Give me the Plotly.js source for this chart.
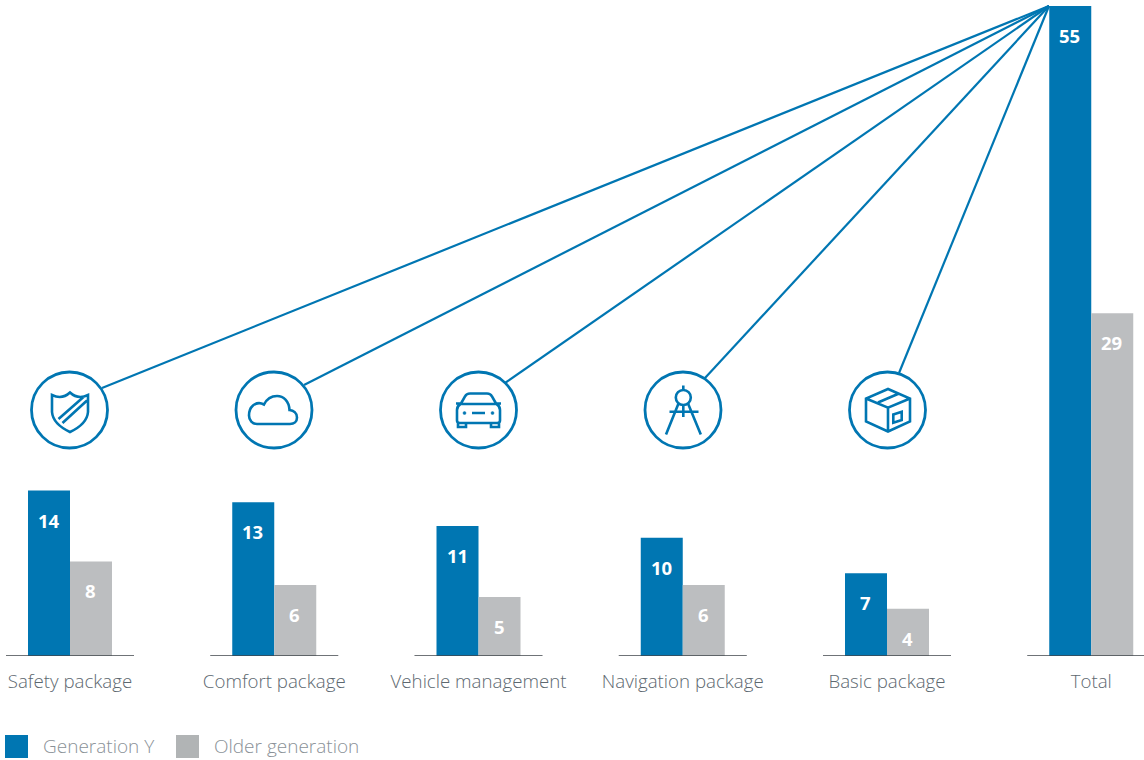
<!DOCTYPE html>
<html>
<head>
<meta charset="utf-8">
<script src="https://cdn.plot.ly/plotly-3.0.1.min.js"></script>
<style>html,body{margin:0;padding:0;background:#fff}</style>
</head>
<body>
<div id="chart" style="width:1144px;height:760px"></div>
<script>
const categories = ['Safety package','Comfort package','Vehicle management','Navigation package','Basic package','Total'];
const generationY = [14,13,11,10,7,55];
const olderGeneration = [8,6,5,6,4,29];
const seriesNames = ['Generation Y','Older generation'];

const BLUE='#0076b2', GREY='#bcbec0', TEXT='#5d6870', RULE='#3f444a';
const idx = categories.map((_,i)=>i);
const PX_PER_CAT = 204.25, X0 = 70;
const PLOT_H = 656, PX_PER_UNIT = 11.82;

// icon drawings in page pixels (x2/y2 axes)
const iconPaths = [
 'M52 395 Q62 400 70 392.5 Q78 400 88 395 L88 412 Q87 424 70 432 Q53 424 52 412 Z M58.5 419 L83.5 397 M62.5 423 L87 400.5',
 'M257 424 H290 C294 424 297 421.5 297 417.5 C297 413 293.5 410.5 289.5 410 C289 401 283.5 396 277 396 C271 396 266.5 399.5 264 404.5 C260.5 402.5 256 403 253 405.5 C250 408 249 411.5 249 415.5 C249 420.5 252.5 424 257 424 Z',
 'M461 403.5 L465 396.5 Q466.5 393.5 470 393.5 H487 Q490.5 393.5 492 396.5 L496 403.5 M456 403.5 H461 M496 403.5 H501 M460.5 404 Q457 406 457 410 V420.5 Q457 423 460 423 H497 Q500 423 500 420.5 V410 Q500 406 496.5 404 Z M458 423 V427 H466 V423 M491 423 V427 H499 V423 M472 413 H485',
 'M683.3 385.5 V390 M683.3 405.5 V417 M669.5 411.7 H698.5 M678.5 403.5 L666 434.5 M688 403.5 L700.8 434.5',
 'M888 389 L866 398.5 V421.5 L888 431.5 L910 421.5 V398.5 Z M866 398.5 L888 407.7 L910 398.5 M888 407.7 V431.5 M878 402.5 L899 393.5 M893.3 414.5 L901.7 411.7 V420 L893.3 422.7 Z'
];
const iconCentres = [[69.5,410],[274,410],[478.5,410],[683,410],[887.5,410]];
const connectorEnds = [[102,388],[304,385],[505,383],[705,378],[899,373]];
const connectorStart = [1049,6];

const shapes = [];
idx.forEach(i=>{
  shapes.push({type:'line',xref:'x',yref:'y',x0:i-0.3135,x1:i+0.3135,y0:0,y1:0,line:{color:RULE,width:1.5}});
});
iconCentres.forEach(c=>{
  shapes.push({type:'circle',xref:'x2',yref:'y2',x0:c[0]-38,x1:c[0]+38,y0:c[1]-38,y1:c[1]+38,line:{color:BLUE,width:2.8},fillcolor:'rgba(0,0,0,0)',layer:'above'});
});
iconPaths.forEach(p=>{
  shapes.push({type:'path',xref:'x2',yref:'y2',path:p,line:{color:BLUE,width:2.6},fillcolor:'rgba(0,0,0,0)',layer:'above'});
});
// compass hinge
shapes.push({type:'circle',xref:'x2',yref:'y2',x0:675.8,x1:690.8,y0:390,y1:405,line:{color:BLUE,width:2.6},layer:'above'});
// car head lamps
[[464.5,413],[492.5,413]].forEach(c=>shapes.push({type:'circle',xref:'x2',yref:'y2',x0:c[0]-1.5,x1:c[0]+1.5,y0:c[1]-1.5,y1:c[1]+1.5,fillcolor:BLUE,line:{color:BLUE,width:0.5},layer:'above'}));
// legend swatches
[[5,BLUE],[176,'#b1b4b5']].forEach(s=>shapes.push({type:'rect',xref:'x2',yref:'y2',x0:s[0],x1:s[0]+23,y0:735,y1:758,fillcolor:s[1],line:{width:0},layer:'above'}));

const annotations = [];
const valueLabel=(i,v,shift)=>({x:i,y:v,xref:'x',yref:'y',text:'<b>'+v+'</b>',showarrow:false,xshift:shift,yshift:-29.5,
  xanchor:'center',yanchor:'middle',font:{family:'"Open Sans",sans-serif',size:18.5,color:'#fff'}});
idx.forEach(i=>{
  annotations.push(valueLabel(i,generationY[i],-21.3));
  annotations.push(valueLabel(i,olderGeneration[i],20.7));
});
[[41,seriesNames[0]],[212,seriesNames[1]]].forEach(l=>annotations.push({xref:'x2',yref:'y2',x:l[0],y:746,text:l[1],showarrow:false,xanchor:'left',yanchor:'middle',
  font:{family:'"Open Sans",sans-serif',size:19,color:'#8a9197',weight:300}}));

const connX=[],connY=[];
connectorEnds.forEach(e=>{connX.push(connectorStart[0],e[0],null);connY.push(connectorStart[1],e[1],null);});

const traces=[
 {type:'bar',name:seriesNames[0],x:idx,y:generationY,marker:{color:BLUE,line:{width:0}},hoverinfo:'y',showlegend:false},
 {type:'bar',name:seriesNames[1],x:idx,y:olderGeneration,marker:{color:GREY,line:{width:0}},hoverinfo:'y',showlegend:false},
 {type:'scatter',mode:'lines',x:connX,y:connY,xaxis:'x2',yaxis:'y2',line:{color:BLUE,width:2.2},hoverinfo:'skip',showlegend:false}
];
const layout={
 width:1144,height:760,margin:{l:0,r:0,t:0,b:0},paper_bgcolor:'#fff',plot_bgcolor:'rgba(0,0,0,0)',
 barmode:'group',bargap:1-84/PX_PER_CAT,bargroupgap:0,showlegend:false,
 font:{family:'"Open Sans",sans-serif',color:TEXT},
 xaxis:{domain:[0,1],anchor:'y',range:[-X0/PX_PER_CAT,(1144-X0)/PX_PER_CAT],tickmode:'array',tickvals:idx,ticktext:categories,
   showgrid:false,zeroline:false,showline:false,ticks:'outside',ticklen:9,tickcolor:'rgba(0,0,0,0)',tickfont:{family:'"Open Sans",sans-serif',size:18.7,color:TEXT,weight:300},tickangle:0,fixedrange:true},
 yaxis:{domain:[1-PLOT_H/760,1],anchor:'x',range:[0,PLOT_H/PX_PER_UNIT],visible:false,fixedrange:true},
 xaxis2:{domain:[0,1],anchor:'y2',range:[0,1144],visible:false,fixedrange:true},
 yaxis2:{domain:[0,1],anchor:'x2',range:[760,0],visible:false,fixedrange:true},
 shapes,annotations
};
Plotly.newPlot('chart',traces,layout,{displayModeBar:false,staticPlot:true});
</script>
</body>
</html>
